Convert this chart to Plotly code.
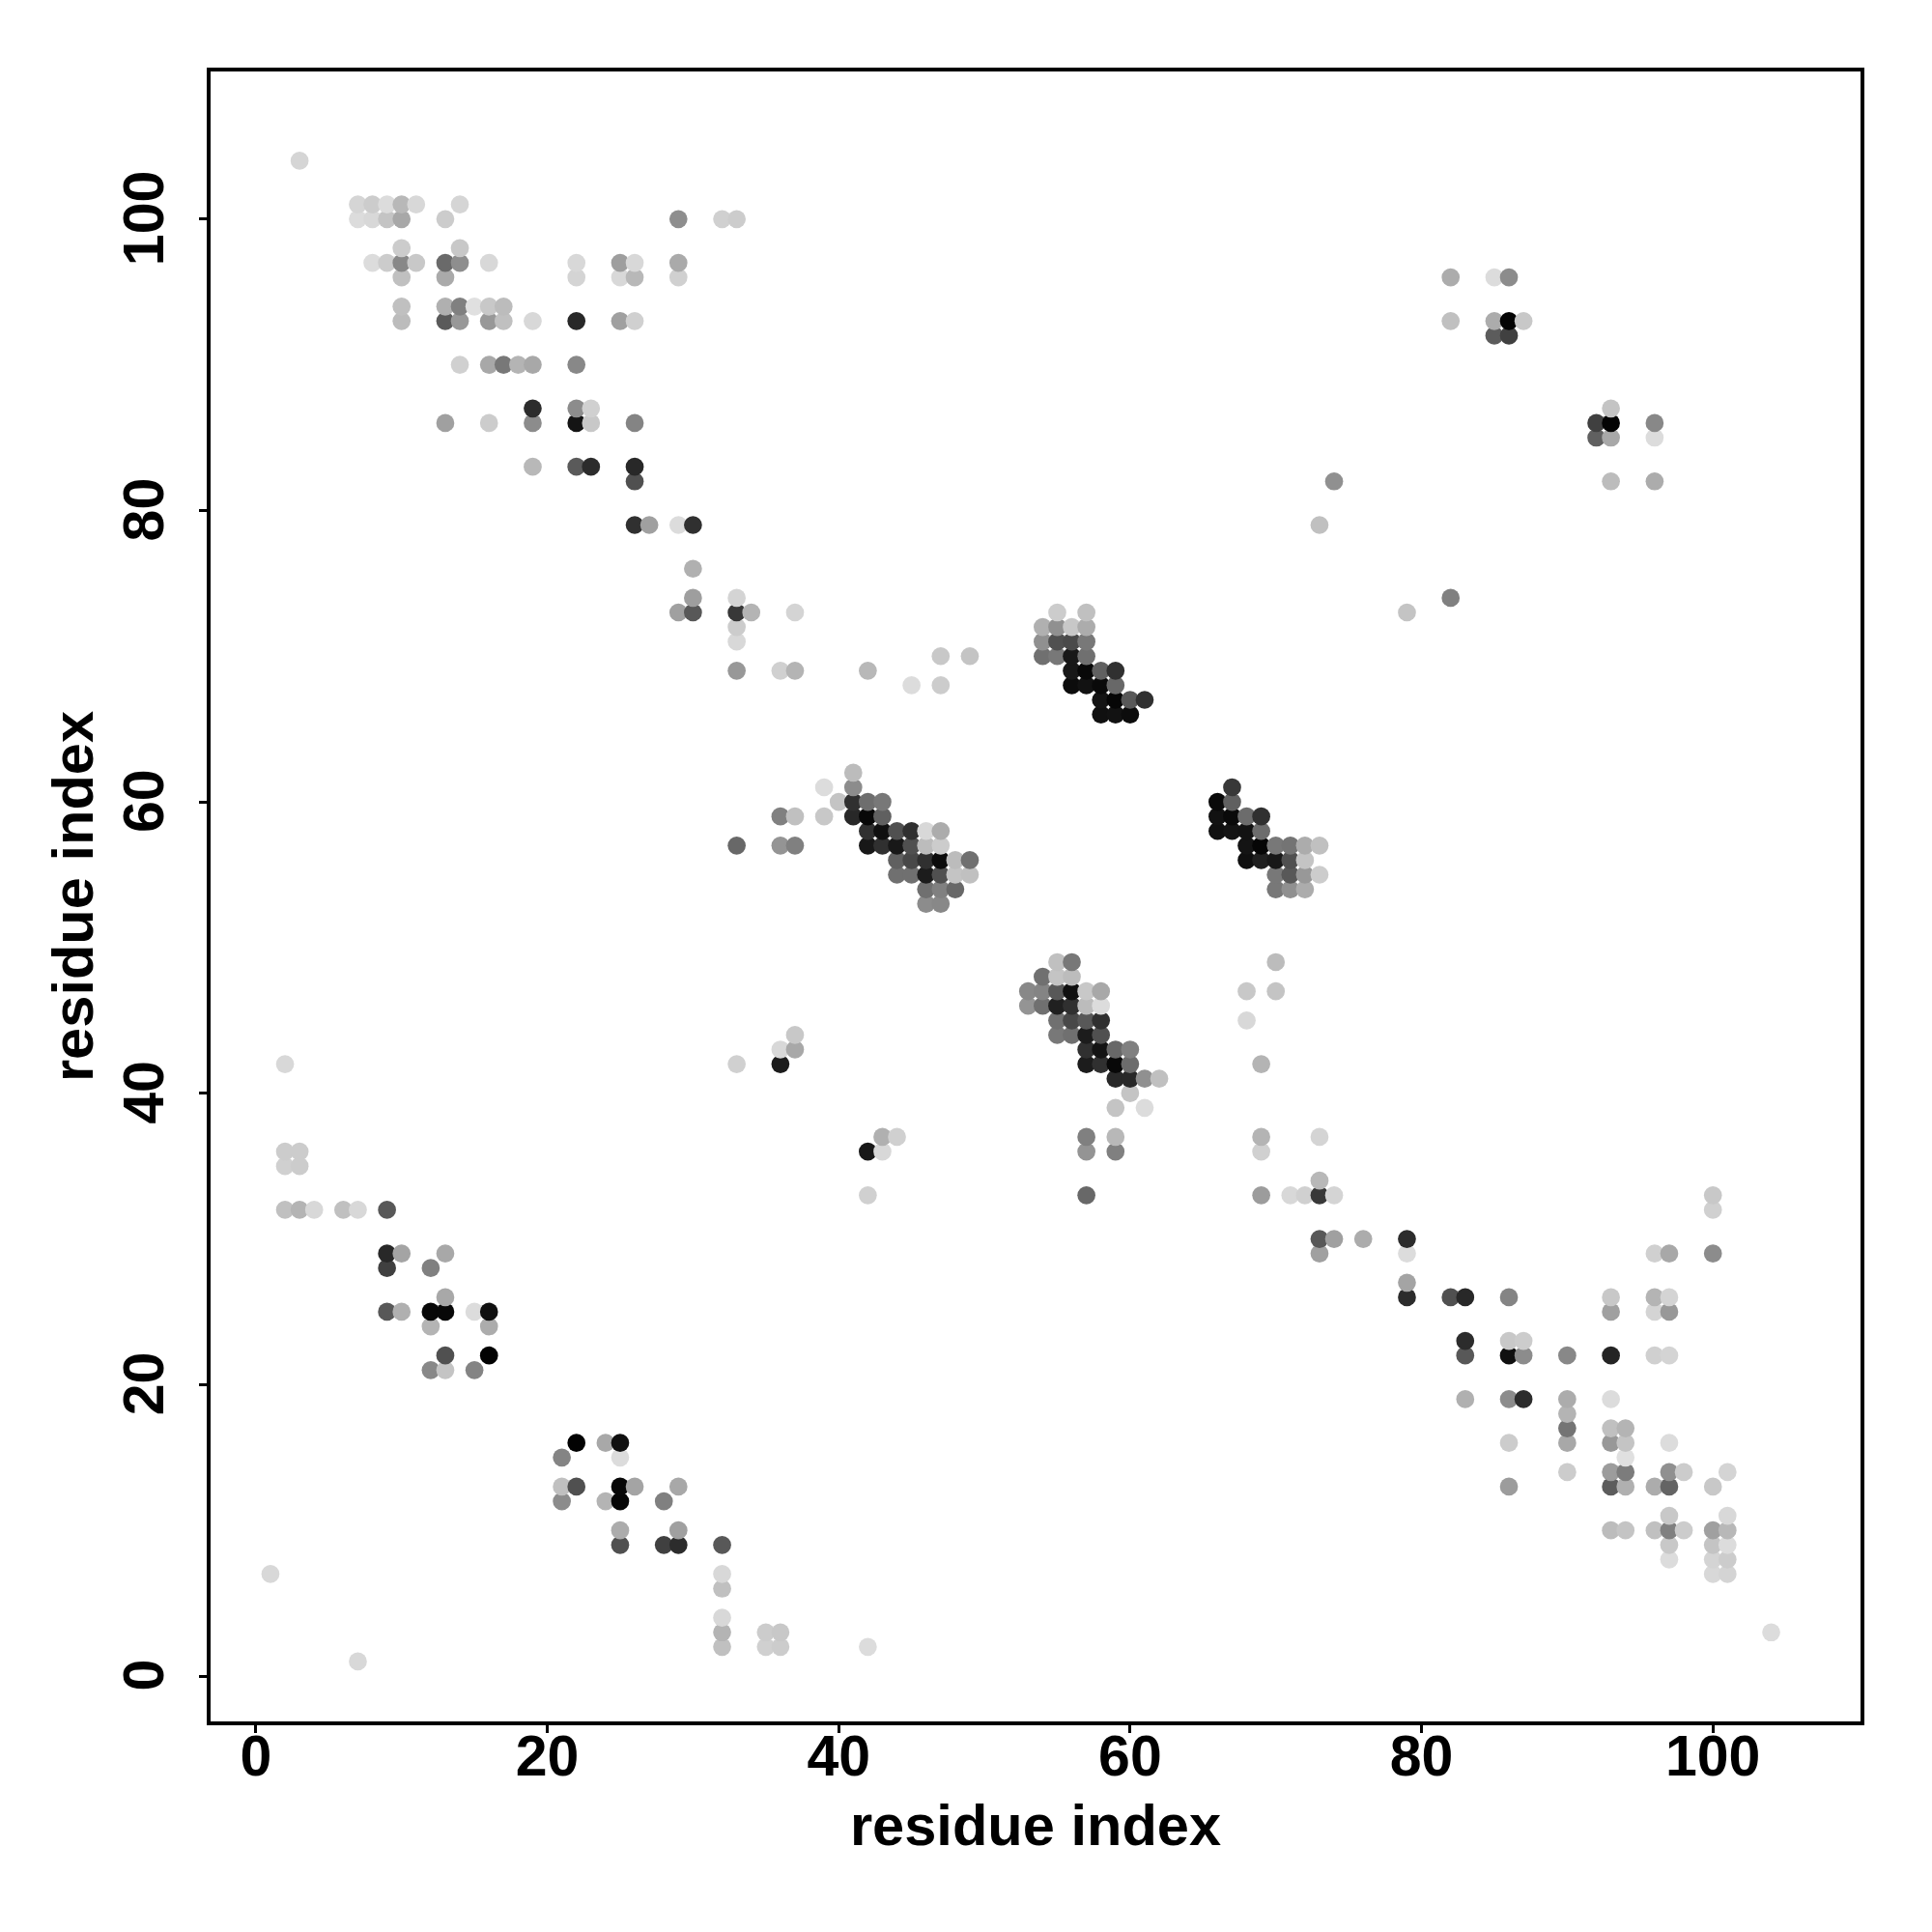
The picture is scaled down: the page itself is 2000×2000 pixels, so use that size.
import plotly.graph_objects as go

row_y = [104, 101, 100, 98, 97, 96, 94, 93, 92, 90, 87, 86, 85, 83, 82, 79, 76, 74, 73, 72, 71, 70, 69, 68, 67, 66,
         62, 61, 60, 59, 58, 57, 56, 55, 54, 53,
         49, 48, 47, 46, 45, 44, 43, 42, 41, 40, 39, 37, 36, 35, 34, 33, 32, 30, 29, 28, 27, 26, 25, 24, 23, 22, 21, 19, 18, 17,
         16, 15, 14, 13, 12, 11, 10, 9, 8, 7, 6, 4, 3, 2, 1]

row_x = [
    [3],
    [7, 8, 9, 10, 11, 14],
    [7, 8, 9, 10, 13, 29, 32, 33],
    [10, 14],
    [8, 9, 10, 11, 13, 14, 16, 22, 25, 26, 29],
    [10, 13, 22, 25, 26, 29, 82, 85, 86],
    [10, 13, 14, 15, 16, 17],
    [10, 13, 14, 16, 17, 19, 22, 25, 26, 82, 85, 86, 87],
    [85, 86],
    [14, 16, 17, 18, 19, 22],
    [19, 22, 23, 93],
    [13, 16, 19, 22, 23, 26, 92, 93, 96],
    [92, 93, 96],
    [19, 22, 23, 26],
    [26, 74, 93, 96],
    [26, 27, 29, 30, 73],
    [30],
    [30, 33, 82],
    [29, 30, 33, 34, 37, 55, 57, 79],
    [33, 54, 55, 56, 57],
    [33, 54, 55, 56, 57],
    [47, 49, 54, 55, 56, 57],
    [33, 36, 37, 42, 56, 57, 58, 59],
    [45, 47, 56, 57, 58, 59],
    [58, 59, 60, 61],
    [58, 59, 60],
    [41],
    [39, 41, 67],
    [40, 41, 42, 43, 66, 67],
    [36, 37, 39, 41, 42, 43, 66, 67, 68, 69],
    [42, 43, 44, 45, 46, 47, 66, 67, 68, 69],
    [33, 36, 37, 42, 43, 44, 45, 46, 47, 68, 69, 70, 71, 72, 73],
    [44, 45, 46, 47, 48, 49, 68, 69, 70, 71, 72],
    [44, 45, 46, 47, 48, 49, 70, 71, 72, 73],
    [46, 47, 48, 70, 71, 72],
    [46, 47],
    [55, 56, 70],
    [54, 55, 56],
    [53, 54, 55, 56, 57, 58, 68, 70],
    [53, 54, 55, 56, 57, 58],
    [55, 56, 57, 58, 68],
    [37, 55, 56, 57, 58],
    [36, 37, 57, 58, 59, 60],
    [2, 33, 36, 57, 58, 59, 60, 69],
    [59, 60, 61, 62],
    [60],
    [59, 61],
    [43, 44, 57, 59, 69, 73],
    [2, 3, 42, 43, 57, 59, 69],
    [2, 3],
    [73],
    [42, 57, 69, 71, 72, 73, 74, 100],
    [2, 3, 4, 6, 7, 9, 100],
    [73, 74, 76, 79],
    [9, 10, 13, 73, 79, 96, 97, 100],
    [9, 12],
    [79],
    [13, 79, 82, 83, 86, 93, 96, 97],
    [9, 10, 12, 13, 15, 16, 93, 96, 97],
    [12, 16],
    [83, 86, 87],
    [13, 16, 83, 86, 87, 90, 93, 96, 97],
    [12, 13, 15],
    [83, 86, 87, 90, 93],
    [90],
    [90, 93, 94],
    [22, 24, 25, 86, 90, 93, 94, 97],
    [21, 25, 94],
    [90, 93, 94, 97, 98, 101],
    [21, 22, 25, 26, 29, 86, 93, 94, 96, 97, 100],
    [21, 24, 25, 28],
    [97, 101],
    [25, 29, 93, 94, 96, 97, 98, 100, 101],
    [25, 28, 29, 32, 97, 100, 101],
    [97, 100, 101],
    [1, 32, 100, 101],
    [32],
    [32],
    [32, 35, 36, 104],
    [32, 35, 36, 42],
    [7],
]

row_grey = [
    [0xd5],
    [0xd5, 0xcc, 0xdc, 0xb8, 0xd8, 0xd5],
    [0xdc, 0xd8, 0xc4, 0xa8, 0xcc, 0x8e, 0xd0, 0xcc],
    [0xcc, 0xc8],
    [0xdc, 0xcc, 0x88, 0xc8, 0x6a, 0x8e, 0xd8, 0xd8, 0x9e, 0xd8, 0xaa],
    [0xc0, 0xaa, 0xd4, 0xd8, 0xb8, 0xd0, 0xac, 0xdc, 0x8c],
    [0xc0, 0xb0, 0x80, 0xe0, 0xc8, 0xbc],
    [0xbc, 0x5a, 0x98, 0x98, 0xc0, 0xd8, 0x28, 0xa0, 0xd0, 0xc0, 0xac, 0x04, 0xc8],
    [0x5c, 0x40],
    [0xd0, 0xa8, 0x78, 0xb4, 0xa8, 0x88],
    [0x2c, 0x8c, 0xd0, 0xc4],
    [0xa0, 0xcc, 0x8c, 0x14, 0xc8, 0x84, 0x40, 0x04, 0x88],
    [0x60, 0xa8, 0xdc],
    [0xb8, 0x5a, 0x2c, 0x28],
    [0x50, 0x90, 0xbc, 0xac],
    [0x30, 0xa0, 0xdc, 0x30, 0xc0],
    [0xb0],
    [0x9e, 0xd4, 0x80],
    [0xa0, 0x58, 0x38, 0xb4, 0xd4, 0xcc, 0xc0, 0xc4],
    [0xcc, 0xb0, 0x90, 0xc8, 0xac],
    [0xd8, 0x90, 0x50, 0x4a, 0x78],
    [0xc8, 0xc4, 0x70, 0x78, 0x18, 0x70],
    [0x98, 0xd0, 0xb4, 0xb8, 0x18, 0x08, 0x60, 0x30],
    [0xdc, 0xcc, 0x0c, 0x12, 0x0a, 0x68],
    [0x14, 0x06, 0x58, 0x30],
    [0x10, 0x12, 0x0c],
    [0xbc],
    [0xdc, 0x8c, 0x38],
    [0xc4, 0x30, 0x6e, 0x78, 0x0a, 0x60],
    [0x80, 0xc0, 0xc8, 0x28, 0x08, 0x60, 0x12, 0x0a, 0x6c, 0x30],
    [0x30, 0x10, 0x50, 0x30, 0xd8, 0xac, 0x10, 0x14, 0x12, 0x6c],
    [0x68, 0x94, 0x80, 0x18, 0x30, 0x18, 0x50, 0xbc, 0xcc, 0x14, 0x06, 0x78, 0x74, 0xac, 0xc0],
    [0x60, 0x48, 0x30, 0x0c, 0xbc, 0x70, 0x10, 0x20, 0x18, 0x50, 0xc4],
    [0x70, 0x70, 0x1c, 0x50, 0xc4, 0xc0, 0x78, 0x58, 0x98, 0xcc],
    [0x70, 0x80, 0x68, 0x78, 0x90, 0xac],
    [0x8c, 0x88],
    [0xc0, 0x78, 0xbc],
    [0x70, 0xc4, 0xbc],
    [0x88, 0x84, 0x58, 0x10, 0xc8, 0xa8, 0xc8, 0xc4],
    [0x94, 0x70, 0x20, 0x30, 0xbc, 0xdc],
    [0x70, 0x48, 0x58, 0x30, 0xd8],
    [0xc8, 0x78, 0x70, 0x1c, 0x50],
    [0xd8, 0xa8, 0x30, 0x14, 0x68, 0x80],
    [0xd8, 0xd0, 0x1c, 0x1c, 0x30, 0x08, 0x6c, 0xb4],
    [0x28, 0x28, 0x90, 0xc0],
    [0xc4],
    [0xc4, 0xdc],
    [0xb0, 0xd0, 0x80, 0xb8, 0xb4, 0xd4],
    [0xcc, 0xcc, 0x18, 0xd8, 0x94, 0x80, 0xd0],
    [0xd0, 0xcc],
    [0xb8],
    [0xd0, 0x68, 0x9c, 0xd8, 0xd0, 0x38, 0xd4, 0xc8],
    [0xc0, 0xb4, 0xd8, 0xc0, 0xd8, 0x58, 0xd0],
    [0x58, 0xa0, 0xac, 0x2c],
    [0x28, 0xa4, 0xa8, 0xa0, 0xdc, 0xd0, 0xa8, 0x8c],
    [0x40, 0x80],
    [0xa4],
    [0xa8, 0x2c, 0x50, 0x28, 0x84, 0xc8, 0xb4, 0xd4],
    [0x58, 0xb0, 0x08, 0x08, 0xdc, 0x10, 0xa0, 0xd4, 0x98],
    [0xb4, 0xac],
    [0x2c, 0xc8, 0xcc],
    [0x50, 0x02, 0x58, 0x10, 0x8c, 0x88, 0x24, 0xd0, 0xd4],
    [0x88, 0xc4, 0x84],
    [0xb0, 0x8c, 0x2c, 0xac, 0xdc],
    [0xb4],
    [0x74, 0xc0, 0xb4],
    [0x02, 0xa8, 0x10, 0xcc, 0xa8, 0x98, 0xc4, 0xdc],
    [0x84, 0xdc, 0xe0],
    [0xcc, 0x9c, 0x7c, 0x90, 0xcc, 0xd4],
    [0xc0, 0x50, 0x08, 0xa4, 0xa8, 0x9c, 0x5c, 0xb0, 0xac, 0x64, 0xc8],
    [0x8c, 0xb4, 0x06, 0x80],
    [0xc8, 0xd8],
    [0xac, 0xa0, 0xbc, 0xc4, 0xc0, 0x80, 0xcc, 0xa0, 0xb8],
    [0x50, 0x40, 0x2c, 0x58, 0xc8, 0xc4, 0xdc],
    [0xdc, 0xd4, 0xcc],
    [0xd8, 0xd8, 0xd8, 0xd4],
    [0xc0],
    [0xd8],
    [0xb4, 0xcc, 0xc8, 0xdc],
    [0xc0, 0xd0, 0xcc, 0xdc],
    [0xd8],
]

tick_vals = [0, 20, 40, 60, 80, 100]
x_title = "residue index"
y_title = "residue index"

points = []
for y, xs, greys in zip(row_y, row_x, row_grey):
    assert len(xs) == len(greys), y
    for x, g in zip(xs, greys):
        points.append((x, y, g))
points.sort(key=lambda p: (p[0], p[1]))

fig = go.Figure(go.Scatter(
    x=[p[0] for p in points],
    y=[p[1] for p in points],
    mode="markers",
    marker=dict(size=18.7, color=[f"rgb({p[2]},{p[2]},{p[2]})" for p in points], line=dict(width=0)),
    hoverinfo="skip",
))


def axis(title, rng, angle, tick_standoff, title_standoff, tick_shift=0):
    return dict(
        range=rng, showgrid=False, zeroline=False, showline=True, mirror=True,
        linecolor="black", linewidth=3.5, ticks="outside", ticklen=8, tickwidth=3,
        tickcolor="black", tickmode="array", tickvals=tick_vals, ticktext=[str(v) for v in tick_vals],
        tickangle=angle, ticklabelstandoff=tick_standoff, ticklabelshift=tick_shift,
        tickfont=dict(family="Liberation Sans", size=59, color="black", weight="bold"),
        title=dict(text=title, standoff=title_standoff,
                   font=dict(family="Liberation Sans", size=59.6, color="black", weight="bold")),
    )


fig.update_layout(
    width=2000, height=2000, autosize=False, showlegend=False,
    paper_bgcolor="white", plot_bgcolor="white",
    margin=dict(l=209.8, r=81.5, t=65.7, b=225.5, autoexpand=False),
    xaxis=axis(x_title, [-3.108, 110.13], 0, -27, 20),
    yaxis=axis(y_title, [-3.115, 110.13], -90, 14, 1, 8),
)
fig.write_html("out.html")
